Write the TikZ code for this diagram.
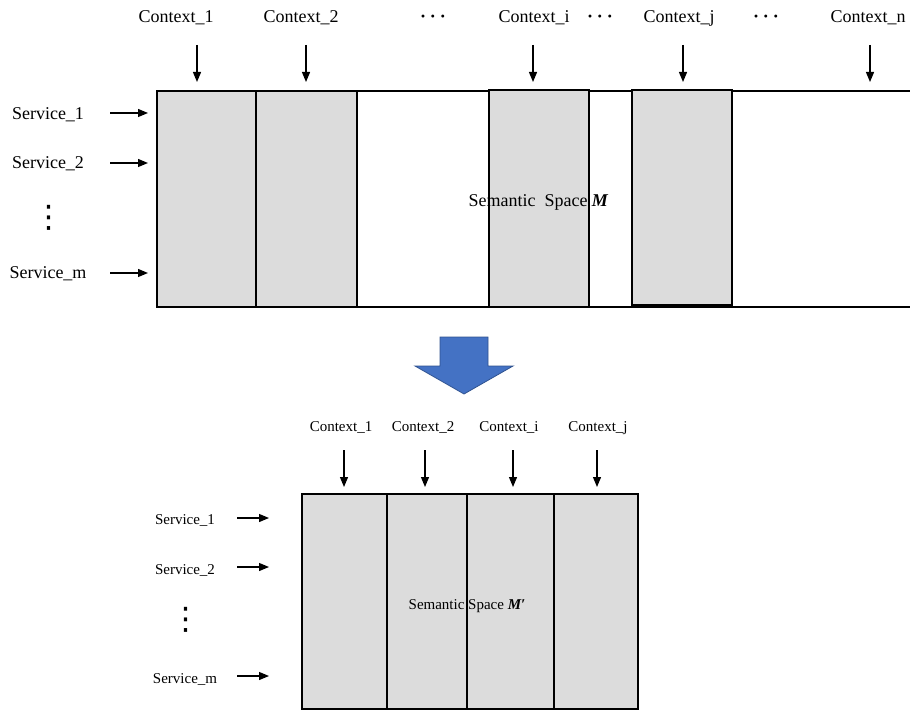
\documentclass[tikz,border=0pt]{standalone}
\usepackage{fontspec}
\setmainfont{Liberation Serif}
\newfontfamily\symfont{DejaVu Sans}
\usetikzlibrary{arrows.meta}
\definecolor{cellgray}{RGB}{220,220,220}
\definecolor{bluefill}{RGB}{68,114,196}
\definecolor{blueline}{RGB}{47,82,143}
\begin{document}
\begin{tikzpicture}[x=1pt,y=-1pt,
  big/.style={font=\fontsize{18}{21}\selectfont, inner sep=0pt, anchor=base},
  small/.style={font=\fontsize{15}{18}\selectfont, inner sep=0pt, anchor=base},
  cell/.style={draw=black, fill=cellgray, line width=1.3pt, inner sep=0pt, outer sep=0pt},
  arr/.style={-{Triangle[length=10pt,width=8pt]}, line width=1.2pt},
  vdot/.style={inner sep=0pt, font=\symfont\fontsize{31}{31}\selectfont},
]
\useasboundingbox (0,0) rectangle (910,711);

% ---------- top semantic space ----------
\draw[line width=1.3pt] (910,91) -- (157,91) -- (157,307) -- (910,307);
\node[cell, minimum width=99pt,  minimum height=216pt] (col1) at (206.5,199) {};
\node[cell, minimum width=101pt, minimum height=216pt] (col2) at (306.5,199) {};
\node[cell, minimum width=100pt, minimum height=217pt] (coli) at (539,198.5) {};
\node[cell, minimum width=100pt, minimum height=215pt] (colj) at (682,197.5) {};
\node[big] (semM) at (538.5,207) {Semantic\ \ Space \textbf{\textit{M}}};

% context labels
\node[big] (c1) at (176,23) {Context\_1};
\node[big] (c2) at (301,23) {Context\_2};
\node[big] (ci) at (534,23) {Context\_i};
\node[big] (cj) at (679,23) {Context\_j};
\node[big] (cn) at (868,23) {Context\_n};
\node[big] (d1) at (433,23) {\textbf{·\hspace{4pt}·\hspace{4pt}·}};
\node[big] (d2) at (600,23) {\textbf{·\hspace{4pt}·\hspace{4pt}·}};
\node[big] (d3) at (766,23) {\textbf{·\hspace{4pt}·\hspace{4pt}·}};

\coordinate (a1s) at (197,45); \coordinate (a1e) at (197,82);
\coordinate (a2s) at (306,45); \coordinate (a2e) at (306,82);
\coordinate (ais) at (533,45); \coordinate (aie) at (533,82);
\coordinate (ajs) at (683,45); \coordinate (aje) at (683,82);
\coordinate (ans) at (870,45); \coordinate (ane) at (870,82);
\draw[arr] (a1s) -- (a1e);
\draw[arr] (a2s) -- (a2e);
\draw[arr] (ais) -- (aie);
\draw[arr] (ajs) -- (aje);
\draw[arr] (ans) -- (ane);

% service labels
\node[big] (s1) at (48,120) {Service\_1};
\node[big] (s2) at (48,169) {Service\_2};
\node[big] (sm) at (48,279) {Service\_m};
\node[vdot] (sv) at (49,217.5) {⋮};
\coordinate (b1s) at (110,113); \coordinate (b1e) at (148,113);
\coordinate (b2s) at (110,163); \coordinate (b2e) at (148,163);
\coordinate (bms) at (110,273); \coordinate (bme) at (148,273);
\draw[arr] (b1s) -- (b1e);
\draw[arr] (b2s) -- (b2e);
\draw[arr] (bms) -- (bme);

% ---------- block arrow ----------
\draw[fill=bluefill, draw=blueline, line width=0.8pt]
  (440,337) -- (488,337) -- (488,366) -- (513,366) -- (464,394) -- (415,366) -- (440,366) -- cycle;

% ---------- bottom semantic space ----------
\node[cell, minimum width=85pt, minimum height=215pt] (k1) at (344.5,601.5) {};
\node[cell, minimum width=80pt, minimum height=215pt] (k2) at (427,601.5) {};
\node[cell, minimum width=87pt, minimum height=215pt] (ki) at (510.5,601.5) {};
\node[cell, minimum width=84pt, minimum height=215pt] (kj) at (596,601.5) {};
\node[small] (semM2) at (467,609) {Semantic Space \textbf{\textit{M′}}};

\node[small] (e1) at (341,431) {Context\_1};
\node[small] (e2) at (423,431) {Context\_2};
\node[small] (ei) at (509,431) {Context\_i};
\node[small] (ej) at (598,431) {Context\_j};
\coordinate (f1s) at (344,450); \coordinate (f1e) at (344,487);
\coordinate (f2s) at (425,450); \coordinate (f2e) at (425,487);
\coordinate (fis) at (513,450); \coordinate (fie) at (513,487);
\coordinate (fjs) at (597,450); \coordinate (fje) at (597,487);
\draw[arr] (f1s) -- (f1e);
\draw[arr] (f2s) -- (f2e);
\draw[arr] (fis) -- (fie);
\draw[arr] (fjs) -- (fje);

\node[small] (t1) at (185,524) {Service\_1};
\node[small] (t2) at (185,574) {Service\_2};
\node[small] (tm) at (185,683) {Service\_m};
\node[vdot] (tv) at (186,620) {⋮};
\coordinate (g1s) at (237,518); \coordinate (g1e) at (269,518);
\coordinate (g2s) at (237,567); \coordinate (g2e) at (269,567);
\coordinate (gms) at (237,676); \coordinate (gme) at (269,676);
\draw[arr] (g1s) -- (g1e);
\draw[arr] (g2s) -- (g2e);
\draw[arr] (gms) -- (gme);
\end{tikzpicture}
\end{document}
